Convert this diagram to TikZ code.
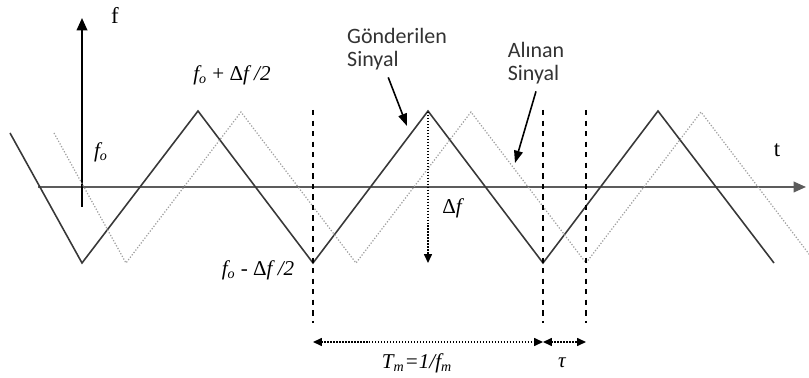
\documentclass[tikz,border=0pt]{standalone}
\usepackage{fontspec}
\setmainfont{Liberation Serif}
\newfontfamily\calloutfont{Carlito}
\usetikzlibrary{positioning,arrows.meta,calc}
\definecolor{axisgray}{HTML}{5C5C5C}
\definecolor{sentgray}{HTML}{383838}
\definecolor{recvgray}{HTML}{A0A0A0}

\begin{document}
\begin{tikzpicture}[
    x=0.02cm, y=-0.02cm,
    axis/.style={-{Triangle[length=7pt,width=6pt]}, line width=1pt, axisgray},
    sig/.style={line width=0.9pt, sentgray, line join=miter},
    rx/.style={densely dotted, line width=0.7pt, recvgray},
    guide/.style={dashed, line width=0.8pt, black},
    dim/.style={densely dotted, line width=0.7pt, {Triangle[length=5pt,width=4.5pt]}-{Triangle[length=5pt,width=4.5pt]}},
    lbl/.style={font=\fontsize{12}{14}\selectfont\itshape, inner sep=1pt},
    axlbl/.style={font=\fontsize{13}{15}\selectfont, inner sep=1pt},
    callout/.style={font=\calloutfont\fontsize{12.5}{13.2}\selectfont, align=left, text=black!80, inner sep=1pt},
    pointer/.style={-{Triangle[length=7pt,width=5pt]}, line width=0.9pt}
  ]
    \useasboundingbox (0,0) rectangle (809,378);

    % axes
    \coordinate (t0) at (38,187);
    \coordinate (t1) at (806,187);
    \coordinate (f0) at (82,207);
    \coordinate (f1) at (82,18);
    \draw[axis] (t0) -- (t1);
    \draw[axis, black] (f0) -- (f1);
    \node[axlbl] (flbl) at (115,15) {f};
    \node[axlbl] (tlbl) at (777,150) {t};

    % sent and received ramps
    \draw[sig] (10,133) -- (82,263) -- (198,111) -- (313,263) -- (428,111) -- (543,263) -- (658,111) -- (774,263);
    \draw[rx] (54,133) -- (126,263) -- (241,112) -- (356,263) -- (471,112) -- (586,263) -- (701,112) -- (812,258);

    % period markers
    \foreach \x/\n in {313/a, 543/b, 586/c} {
      \coordinate (top\n) at (\x,110);
      \coordinate (bot\n) at (\x,323);
      \draw[guide] (top\n) -- (bot\n);
      \coordinate (dim\n) at (\x,342);
    }
    \draw[dim] (dima) -- (dimb);
    \draw[dim] (dimb) -- (dimc);
    \node[lbl] (tmlbl) at (417,363) {T\textsubscript{m}=1/f\textsubscript{m}};
    \node[lbl] (taulbl) at (562,363) {τ};

    % deviation
    \coordinate (peak) at (428,112);
    \coordinate (valley) at (428,263);
    \draw[densely dotted, line width=0.7pt, -{Triangle[length=5pt,width=4.5pt]}] (peak) -- (valley);
    \node[lbl] (dflbl) at (452,208) {{\upshape Δ}f};

    % levels
    \node[lbl] (fhigh) at (232,75) {f\textsubscript{o} {\upshape +} {\upshape Δ}f /2};
    \node[lbl] (fmid) at (101,152) {f\textsubscript{o}};
    \node[lbl] (flow) at (258,270) {f\textsubscript{o} {\upshape -} {\upshape Δ}f /2};

    % callouts
    \node[callout] (sentlbl) at (397,49) {Gönderilen\\Sinyal};
    \node[callout] (recvlbl) at (536,63) {Alınan\\Sinyal};
    \coordinate (senttip) at (407,126);
    \coordinate (recvtip) at (515,163);
    \draw[pointer] ([xshift=-5pt,yshift=-3pt]sentlbl.south) -- (senttip);
    \draw[pointer] ([yshift=-3pt]recvlbl.south) -- (recvtip);
  \end{tikzpicture}
\end{document}
